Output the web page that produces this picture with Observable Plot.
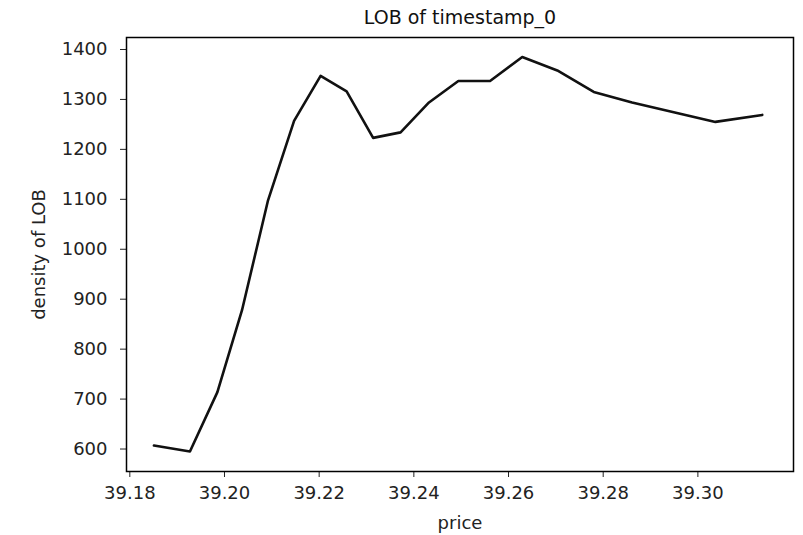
<!DOCTYPE html>
<html>
<head>
<meta charset="utf-8">
<script src="https://cdn.jsdelivr.net/npm/d3@7"></script>
<script src="https://cdn.jsdelivr.net/npm/@observablehq/plot@0.6"></script>
<style>
  html, body { margin: 0; padding: 0; background: #fff; }
</style>
</head>
<body>
<div id="chart"></div>
<script>
const titleText = "LOB of timestamp_0";
const xLabel = "price";
const yLabel = "density of LOB";

const price = [39.1851, 39.1927, 39.1985, 39.2037, 39.2092, 39.2147, 39.2203, 39.2258, 39.2314, 39.2372,
               39.2432, 39.2494, 39.2561, 39.2629, 39.2703, 39.2780, 39.2861, 39.3037, 39.3136];
const density = [607, 595, 714, 878, 1098, 1257, 1347, 1316, 1223, 1234,
                 1294, 1337, 1337, 1385, 1358, 1315, 1294, 1255, 1269];

const xTicks = [39.18, 39.20, 39.22, 39.24, 39.26, 39.28, 39.30];
const yTicks = [600, 700, 800, 900, 1000, 1100, 1200, 1300, 1400];

const data = price.map((p, i) => ({price: p, density: density[i]}));

const chart = Plot.plot({
  width: 803,
  height: 535,
  marginLeft: 126,
  marginRight: 10,
  marginTop: 37,
  marginBottom: 64,
  style: {fontFamily: "DejaVu Sans", fontSize: "18px", color: "#222", background: "#fff"},
  x: {domain: [39.1793, 39.3202]},
  y: {domain: [555, 1424]},
  marks: [
    Plot.axisX({ticks: xTicks, tickFormat: d3.format(".2f"), tickSize: 6, tickPadding: 9,
                label: xLabel, labelAnchor: "center", labelArrow: "none", labelOffset: 57, fontSize: 18}),
    Plot.axisY({ticks: yTicks, tickFormat: d => String(d), tickSize: 6, tickPadding: 13,
                label: yLabel, labelAnchor: "center", labelArrow: "none", labelOffset: 94, fontSize: 18}),
    Plot.frame({stroke: "#000", strokeWidth: 1.5}),
    Plot.line(data, {x: "price", y: "density", stroke: "#111", strokeWidth: 2.6}),
    Plot.text([titleText], {frameAnchor: "top", dy: -27, fontSize: 19, fill: "#111"})
  ]
});
document.getElementById("chart").appendChild(chart);
</script>
</body>
</html>
